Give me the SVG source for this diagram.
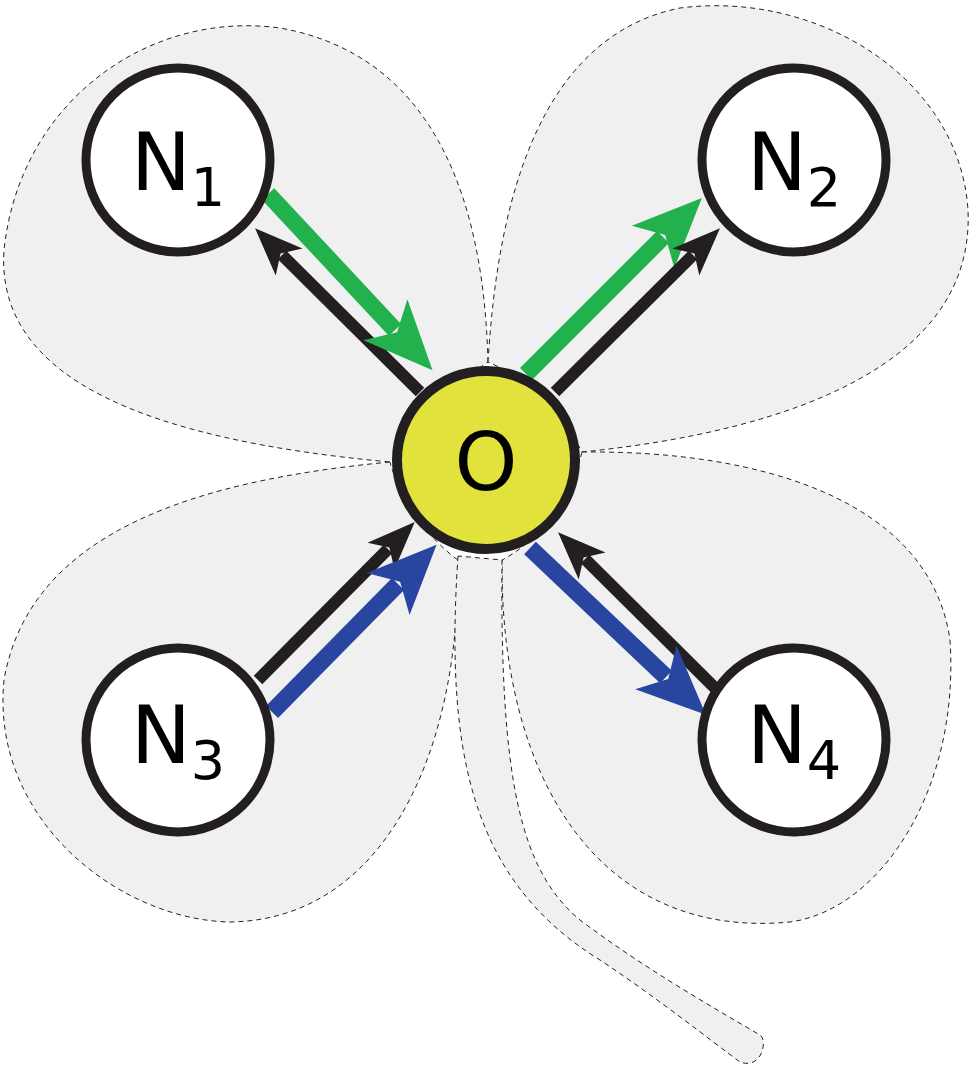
<svg xmlns="http://www.w3.org/2000/svg" width="976" height="1068" viewBox="0 0 976 1068">
<style>
.leaf{fill:#f0f0f0;stroke:#222;stroke-width:1;stroke-dasharray:5,4}
.node{fill:#fff;stroke:#231f20;stroke-width:9}
.lbl{font-family:"DejaVu Sans",sans-serif;font-size:80px;fill:#000;text-anchor:middle}
.blk{stroke:#231f20;stroke-width:12;fill:none;marker-end:url(#hb)}
.grn{stroke:#22b14c;stroke-width:17;fill:none;marker-end:url(#hg)}
.blu{stroke:#2846a0;stroke-width:17;fill:none;marker-end:url(#hu)}
</style>
<defs>
<marker id="hb" markerUnits="userSpaceOnUse" orient="auto" markerWidth="80" markerHeight="80" refX="0" refY="0" viewBox="-20 -40 80 80" overflow="visible"><path d="M-10,-19 L38,0 L-10,19 L2,0 z" fill="#231f20"/></marker>
<marker id="hg" markerUnits="userSpaceOnUse" orient="auto" markerWidth="100" markerHeight="100" refX="0" refY="0" viewBox="-30 -50 100 100" overflow="visible"><path d="M-14,-30 L55,0 L-14,30 L3,0 z" fill="#22b14c"/></marker>
<marker id="hu" markerUnits="userSpaceOnUse" orient="auto" markerWidth="100" markerHeight="100" refX="0" refY="0" viewBox="-30 -50 100 100" overflow="visible"><path d="M-14,-30 L55,0 L-14,30 L3,0 z" fill="#2846a0"/></marker>
</defs>
<g id="leaves">
<path class="leaf" d="M488,362 C485,250 460,60 280,28 C150,10 20,100 4,250 C-5,380 150,440 390,462 C420,420 460,380 488,362 z"/>
<path class="leaf" d="M488,362 C495,250 520,40 680,8 C820,-10 960,80 968,210 C975,360 800,430 582,452 C560,410 520,375 488,362 z"/>
<path class="leaf" d="M390,462 C200,480 30,530 4,680 C-10,820 120,920 230,922 C380,920 460,760 458,560 C430,540 400,500 390,462 z"/>
<path class="leaf" d="M582,452 C760,450 930,500 950,640 C960,790 880,910 790,922 C600,940 500,780 502,560 C540,540 570,500 582,452 z"/>
<path class="leaf" d="M458,556 C445,750 470,880 600,960 C660,1000 710,1040 740,1062 C762,1070 768,1040 760,1035 C700,1000 640,965 580,920 C520,870 500,780 502,560 z"/>
</g>
<g id="connectors">
<line class="blk" x1="420" y1="392" x2="282" y2="255"/>
<line class="grn" x1="268" y1="194" x2="395" y2="330"/>
<line class="grn" x1="526" y1="374" x2="663" y2="237"/>
<line class="blk" x1="555" y1="392" x2="693" y2="255"/>
<line class="blk" x1="258" y1="680" x2="388" y2="549"/>
<line class="blu" x1="272" y1="712" x2="398" y2="584"/>
<line class="blk" x1="715" y1="688" x2="585" y2="559"/>
<line class="blu" x1="530" y1="548" x2="666" y2="677"/>
</g>
<g id="O"><circle cx="486" cy="460" r="89" fill="#e2e23c" stroke="#231f20" stroke-width="10"/><text class="lbl" x="486" y="490">O</text></g>
<g id="N1"><circle class="node" cx="178" cy="160" r="92"/><text class="lbl" x="178" y="190">N<tspan font-size="54" dy="16">1</tspan></text></g>
<g id="N2"><circle class="node" cx="794" cy="160" r="92"/><text class="lbl" x="794" y="190">N<tspan font-size="54" dy="16">2</tspan></text></g>
<g id="N3"><circle class="node" cx="178" cy="740" r="92"/><text class="lbl" x="178" y="763">N<tspan font-size="54" dy="16">3</tspan></text></g>
<g id="N4"><circle class="node" cx="794" cy="740" r="92"/><text class="lbl" x="794" y="763">N<tspan font-size="54" dy="16">4</tspan></text></g>
</svg>
